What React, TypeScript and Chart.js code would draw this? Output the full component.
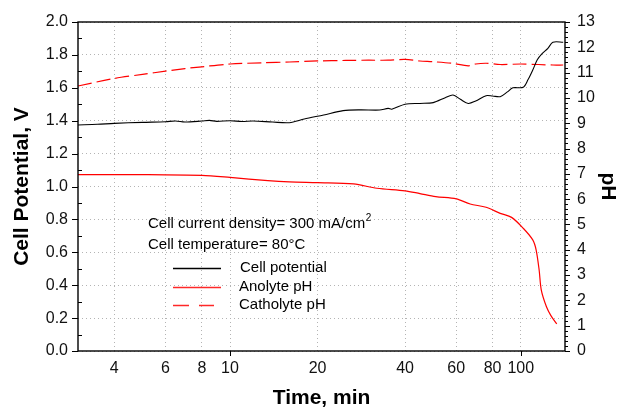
import React, { useEffect, useRef } from "react";
import { Chart, registerables } from "chart.js";

Chart.register(...registerables);

// ---- data (time in minutes) ----
const potentialTime = [3, 3.5, 4, 5, 6, 6.5, 7, 8, 8.5, 9, 10, 11, 12, 14, 16, 18, 21, 24.5, 28, 32.7, 35, 36, 40, 45, 50, 55, 58.5, 62, 66, 70, 76, 80, 85, 90, 94, 102, 106, 110, 114, 118, 124, 129, 140];
const potentialV = [1.374, 1.378, 1.384, 1.39, 1.394, 1.398, 1.392, 1.398, 1.402, 1.396, 1.4, 1.395, 1.398, 1.392, 1.388, 1.41, 1.435, 1.461, 1.466, 1.465, 1.475, 1.47, 1.5, 1.505, 1.51, 1.54, 1.556, 1.53, 1.505, 1.52, 1.552, 1.55, 1.546, 1.575, 1.6, 1.603, 1.65, 1.708, 1.77, 1.805, 1.84, 1.877, 1.877];

const anolyteTime = [3, 5, 8, 10, 13.5, 16, 20, 26.6, 32, 40, 45, 51, 60, 67, 76, 85, 93, 102, 110, 113, 115.7, 117.7, 122.6, 127, 133];
const anolytePH = [6.97, 6.97, 6.94, 6.86, 6.73, 6.68, 6.65, 6.6, 6.43, 6.33, 6.22, 6.1, 6.01, 5.81, 5.68, 5.44, 5.28, 4.85, 4.39, 3.99, 3.2, 2.41, 1.75, 1.4, 1.07];

const catholyteTime = [3, 4, 5, 6, 7, 8, 10, 13, 16, 20, 25, 30, 35, 40, 45, 50, 58, 66, 70, 76, 85, 100, 115, 129, 140];
const catholytePH = [10.47, 10.77, 10.93, 11.06, 11.16, 11.23, 11.34, 11.39, 11.42, 11.46, 11.48, 11.49, 11.49, 11.52, 11.46, 11.43, 11.37, 11.27, 11.34, 11.37, 11.32, 11.34, 11.32, 11.3, 11.3];

const xTickValues = [4, 6, 8, 10, 20, 40, 60, 80, 100];
const xMajorTicks = [10, 100];

const annotationLines = ["Cell current density= 300 mA/cm", "Cell temperature= 80°C"];
const legendLabels = ["Cell potential", "Anolyte pH", "Catholyte pH"];

const FONT = "'Liberation Sans', Arial, sans-serif";

const zip = (xs: number[], ys: number[]) => xs.map((x, i) => ({ x, y: ys[i] }));

const decorPlugin = {
  id: "decor",
  afterDraw(chart: any) {
    const ctx = chart.ctx as CanvasRenderingContext2D;
    const { left, right, top, bottom } = chart.chartArea;
    const yL = chart.scales.y;
    const yR = chart.scales.y1;
    const x = chart.scales.x;
    ctx.save();
    ctx.setLineDash([]);
    ctx.strokeStyle = "#000";
    ctx.lineWidth = 1.4;
    ctx.strokeRect(left, top, right - left, bottom - top);
    ctx.lineWidth = 1;
    ctx.beginPath();
    // left axis ticks
    for (let i = 0; i <= 20; i++) {
      const v = i / 10;
      const py = Math.round(yL.getPixelForValue(v)) + 0.5;
      if (i % 2 === 0) {
        ctx.moveTo(left - 6, py);
        ctx.lineTo(left, py);
      } else {
        ctx.moveTo(left, py);
        ctx.lineTo(left + 4, py);
      }
    }
    // right axis ticks
    for (let i = 0; i <= 65; i++) {
      const v = i / 5;
      const py = Math.round(yR.getPixelForValue(v)) + 0.5;
      const len = i % 5 === 0 ? 5 : 3;
      ctx.moveTo(right, py);
      ctx.lineTo(right + len, py);
    }
    // x major ticks
    for (const v of xMajorTicks) {
      const px = Math.round(x.getPixelForValue(v)) + 0.5;
      ctx.moveTo(px, bottom);
      ctx.lineTo(px, bottom + 5);
    }
    ctx.stroke();

    // annotation text
    ctx.fillStyle = "#000";
    ctx.textBaseline = "middle";
    ctx.textAlign = "left";
    ctx.font = `15px ${FONT}`;
    ctx.fillText(annotationLines[0], 148, 224);
    const w = ctx.measureText(annotationLines[0]).width;
    ctx.font = `10px ${FONT}`;
    ctx.fillText("2", 148 + w + 0.5, 218);
    ctx.font = `15px ${FONT}`;
    ctx.fillText(annotationLines[1], 148, 245);

    // legend
    const ly = [268, 287, 305];
    ctx.fillText(legendLabels[0], 240, ly[0]);
    ctx.fillText(legendLabels[1], 239, ly[1]);
    ctx.fillText(legendLabels[2], 239, ly[2]);

    ctx.lineWidth = 1.3;
    ctx.strokeStyle = "#000000";
    ctx.beginPath();
    ctx.moveTo(173, ly[0] + 0.5);
    ctx.lineTo(221, ly[0] + 0.5);
    ctx.stroke();

    ctx.strokeStyle = "rgb(255,40,40)";
    ctx.lineWidth = 1.5;
    ctx.beginPath();
    ctx.moveTo(173, ly[1] + 0.5);
    ctx.lineTo(221, ly[1] + 0.5);
    ctx.stroke();

    ctx.strokeStyle = "rgb(255,40,40)";
    ctx.beginPath();
    ctx.moveTo(173, ly[2] + 0.5);
    ctx.lineTo(189, ly[2] + 0.5);
    ctx.moveTo(199, ly[2] + 0.5);
    ctx.lineTo(214, ly[2] + 0.5);
    ctx.stroke();
    ctx.restore();
  },
};

export default function App() {
  const ref = useRef<HTMLCanvasElement | null>(null);
  useEffect(() => {
    if (!ref.current) return;
    const gridColor = "#b4b4b4";
    const chart = new Chart(ref.current, {
      type: "line",
      data: {
        datasets: [
          {
            label: legendLabels[0],
            data: zip(potentialTime, potentialV),
            borderColor: "#000",
            borderWidth: 1.1,
            pointRadius: 0,
            tension: 0.3,
            yAxisID: "y",
          },
          {
            label: legendLabels[1],
            data: zip(anolyteTime, anolytePH),
            borderColor: "#ff0000",
            borderWidth: 1.2,
            pointRadius: 0,
            tension: 0.3,
            yAxisID: "y1",
          },
          {
            label: legendLabels[2],
            data: zip(catholyteTime, catholytePH),
            borderColor: "#ff0000",
            borderWidth: 1.2,
            borderDash: [14, 5],
            pointRadius: 0,
            tension: 0.3,
            yAxisID: "y1",
          },
        ],
      },
      options: {
        responsive: false,
        animation: false,
        layout: { padding: { top: 22, left: 0, right: 0, bottom: 0 } },
        plugins: { legend: { display: false }, tooltip: { enabled: false } },
        scales: {
          x: {
            type: "logarithmic",
            min: 3,
            max: 142,
            afterBuildTicks: (scale: any) => {
              scale.ticks = xTickValues.map((v) => ({ value: v }));
            },
            afterFit: (scale: any) => {
              scale.height = 60;
            },
            ticks: {
              color: "#111",
              font: { family: FONT, size: 16 },
              padding: 8,
              maxRotation: 0,
              autoSkip: false,
              callback: (v: any) => String(v),
            },
            grid: { color: gridColor, lineWidth: 1, drawTicks: false },
            border: { display: false, dash: [1, 3] },
            title: {
              display: true,
              text: "Time, min",
              color: "#000",
              font: { family: FONT, size: 21, weight: "bold" },
              padding: { top: 0, bottom: 0 },
            },
          },
          y: {
            type: "linear",
            position: "left",
            min: 0,
            max: 2,
            afterFit: (scale: any) => {
              scale.width = 78;
            },
            ticks: {
              stepSize: 0.2,
              color: "#111",
              font: { family: FONT, size: 16 },
              padding: 10,
              callback: (v: any) => Number(v).toFixed(1),
            },
            grid: { color: gridColor, lineWidth: 1, drawTicks: false },
            border: { display: false, dash: [1, 3] },
            title: {
              display: true,
              text: "Cell Potential, V",
              color: "#000",
              font: { family: FONT, size: 21, weight: "bold" },
              padding: { top: 10, bottom: 10 },
            },
          },
          y1: {
            type: "linear",
            position: "right",
            min: 0,
            max: 13,
            afterFit: (scale: any) => {
              scale.width = 56;
            },
            ticks: {
              stepSize: 1,
              color: "#111",
              font: { family: FONT, size: 16 },
              padding: 12,
            },
            grid: { display: false, drawTicks: false },
            border: { display: false },
            title: {
              display: true,
              text: "pH",
              color: "#000",
              font: { family: FONT, size: 21, weight: "bold" },
              padding: { top: 1, bottom: 1 },
            },
          },
        },
      },
      plugins: [decorPlugin],
    } as any);
    return () => chart.destroy();
  }, []);
  return (
    <div style={{ position: "absolute", left: 0, top: 0, width: 621, height: 411, background: "#fff" }}>
      <canvas ref={ref} width={621} height={411} />
    </div>
  );
}
